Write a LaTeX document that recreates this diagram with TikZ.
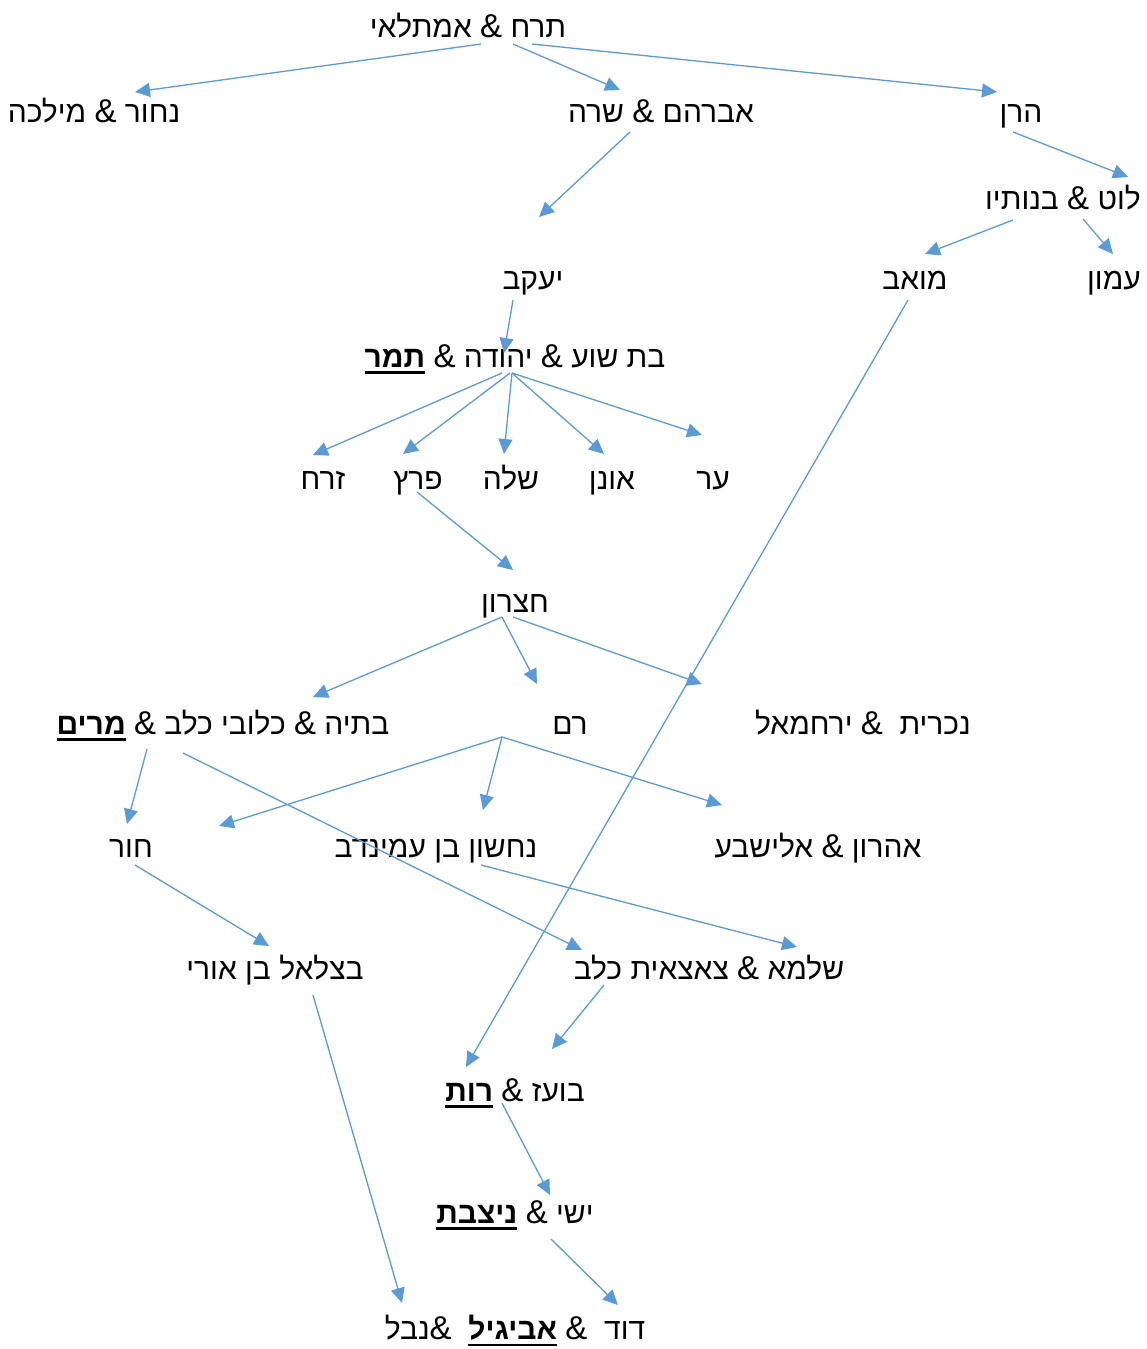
\documentclass[tikz,border=0pt]{standalone}
\usepackage{fontspec}
\newfontfamily\hebfont[Script=Hebrew]{Liberation Sans}
\TeXXeTstate=1
\usetikzlibrary{arrows.meta}
\definecolor{edgeblue}{HTML}{5B9BD5}
\newcommand\heb[1]{\beginR #1\endR}
\newcommand\amp{{\fontsize{33}{36}\selectfont\&}}
\newcommand\bul[1]{\vtop{\hbox{\bfseries #1}\kern4pt\hrule height 2.6pt}}
\tikzset{
  lbl/.style={font=\hebfont\fontsize{30}{36}\selectfont, inner sep=0pt, anchor=base, text=black},
  arr/.style={draw=edgeblue, line width=1.3pt, -{Triangle[length=15pt,width=14pt]}}
}
\begin{document}
\begin{tikzpicture}[x=1pt,y=-1pt]
\useasboundingbox (0,0) rectangle (1147,1349);
\fill[white] (0,0) rectangle (1147,1349);
% nodes
\node[lbl] (terach) at (468,37) {\heb{תרח \amp{} אמתלאי}};
\node[lbl] (nachor) at (94,122) {\heb{נחור \amp{} מילכה}};
\node[lbl] (avraham) at (661,122) {\heb{אברהם \amp{} שרה}};
\node[lbl] (haran) at (1021,122) {\heb{הרן}};
\node[lbl] (lot) at (1063,209) {\heb{לוט \amp{} בנותיו}};
\node[lbl] (moav) at (915,289) {\heb{מואב}};
\node[lbl] (amon) at (1114,289) {\heb{עמון}};
\node[lbl] (yaakov) at (533,289) {\heb{יעקב}};
\node[lbl] (yehuda) at (515,367) {\heb{בת שוע \amp{} יהודה \amp{} \bul{תמר}}};
\node[lbl] (zerach) at (323,489) {\heb{זרח}};
\node[lbl] (peretz) at (418,489) {\heb{פרץ}};
\node[lbl] (shela) at (511,489) {\heb{שלה}};
\node[lbl] (onan) at (612,489) {\heb{אונן}};
\node[lbl] (er) at (713,489) {\heb{ער}};
\node[lbl] (chetzron) at (515,612) {\heb{חצרון}};
\node[lbl] (batya) at (223,734) {\heb{בתיה \amp{} כלובי כלב \amp{} \bul{מרים}}};
\node[lbl] (ram) at (570,734) {\heb{רם}};
\node[lbl] (nochrit) at (863,734) {\heb{נכרית \ \amp{} ירחמאל}};
\node[lbl] (chur) at (131,857) {\heb{חור}};
\node[lbl] (nachshon) at (436,857) {\heb{נחשון בן עמינדב}};
\node[lbl] (aharon) at (818,857) {\heb{אהרון \amp{} אלישבע}};
\node[lbl] (betzalel) at (275,979) {\heb{בצלאל בן אורי}};
\node[lbl] (salma) at (709,979) {\heb{שלמא \amp{} צאצאית כלב}};
\node[lbl] (boaz) at (515,1101) {\heb{בועז \amp{} \bul{רות}}};
\node[lbl] (yishai) at (515,1223) {\heb{ישי \amp{} \bul{ניצבת}}};
\node[lbl] (david) at (515,1339) {\heb{דוד \ \amp{} \bul{אביגיל} \ \amp\kern0pt נבל}};
% edges
\draw[arr] ([shift={(13,7)}]terach.base) -- ([shift={(41,-30)}]nachor.base);
\draw[arr] ([shift={(45,7)}]terach.base) -- ([shift={(-41,-32)}]avraham.base);
\draw[arr] ([shift={(64,7)}]terach.base) -- ([shift={(-24,-30)}]haran.base);
\draw[arr] ([shift={(-31,10)}]avraham.base) -- ([shift={(6,-72)}]yaakov.base);
\draw[arr] ([shift={(-8,10)}]haran.base) -- ([shift={(65,-32)}]lot.base);
\draw[arr] ([shift={(-50,11)}]lot.base) -- ([shift={(10,-35)}]moav.base);
\draw[arr] ([shift={(20,10)}]lot.base) -- ([shift={(-1,-35)}]amon.base);
\draw[arr] ([shift={(-7,11)}]moav.base) -- ([shift={(-49,-34)}]boaz.base);
\draw[arr] ([shift={(-20,11)}]yaakov.base) -- ([shift={(-11,-14)}]yehuda.base);
\draw[arr] ([shift={(-13,6)}]yehuda.base) -- ([shift={(-10,-34)}]zerach.base);
\draw[arr] ([shift={(-5,6)}]yehuda.base) -- ([shift={(-15,-35)}]peretz.base);
\draw[arr] ([shift={(-3,6)}]yehuda.base) -- ([shift={(-7,-35)}]shela.base);
\draw[arr] ([shift={(-3,6)}]yehuda.base) -- ([shift={(-8,-35)}]onan.base);
\draw[arr] ([shift={(-3,6)}]yehuda.base) -- ([shift={(-11,-54)}]er.base);
\draw[arr] ([shift={(-1,3)}]peretz.base) -- ([shift={(-2,-42)}]chetzron.base);
\draw[arr] ([shift={(-13,5)}]chetzron.base) -- ([shift={(90,-37)}]batya.base);
\draw[arr] ([shift={(-13,5)}]chetzron.base) -- ([shift={(-33,-50)}]ram.base);
\draw[arr] ([shift={(-2,5)}]chetzron.base) -- ([shift={(-161,-50)}]nochrit.base);
\draw[arr] ([shift={(-76,15)}]batya.base) -- ([shift={(-4,-33)}]chur.base);
\draw[arr] ([shift={(-40,19)}]batya.base) -- ([shift={(-127,-29)}]salma.base);
\draw[arr] ([shift={(-68,3)}]ram.base) -- ([shift={(88,-31)}]chur.base);
\draw[arr] ([shift={(-68,3)}]ram.base) -- ([shift={(47,-47)}]nachshon.base);
\draw[arr] ([shift={(-68,3)}]ram.base) -- ([shift={(-96,-52)}]aharon.base);
\draw[arr] ([shift={(4,8)}]chur.base) -- ([shift={(-6,-33)}]betzalel.base);
\draw[arr] ([shift={(45,8)}]nachshon.base) -- ([shift={(88,-32)}]salma.base);
\draw[arr] ([shift={(38,16)}]betzalel.base) -- ([shift={(-113,-36)}]david.base);
\draw[arr] ([shift={(-105,6)}]salma.base) -- ([shift={(37,-52)}]boaz.base);
\draw[arr] ([shift={(-13,2)}]boaz.base) -- ([shift={(35,-28)}]yishai.base);
\draw[arr] ([shift={(36,16)}]yishai.base) -- ([shift={(103,-34)}]david.base);
\end{tikzpicture}
\end{document}
